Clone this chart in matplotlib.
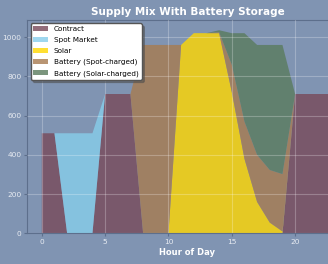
import matplotlib
matplotlib.use("Agg")
import matplotlib.pyplot as plt

# hourly supply (MW) by source
hours = list(range(24))
contract = [510, 510, 0, 0, 0, 710, 710, 710, 0, 0, 0, 0, 0, 0, 0, 0, 0, 0, 0, 0, 710, 710, 710, 710]
spot = [0, 0, 510, 510, 510, 0, 0, 0, 0, 0, 0, 0, 0, 0, 0, 0, 0, 0, 0, 0, 0, 0, 0, 0]
solar = [0, 0, 0, 0, 0, 0, 0, 0, 0, 0, 0, 960, 1020, 1020, 1020, 720, 380, 160, 55, 10, 0, 0, 0, 0]
batt_spot = [0, 0, 0, 0, 0, 0, 0, 0, 960, 960, 960, 0, 0, 0, 5, 140, 190, 240, 268, 292, 0, 0, 0, 0]
batt_solar = [0, 0, 0, 0, 0, 0, 0, 0, 0, 0, 0, 0, 0, 0, 10, 160, 450, 560, 637, 658, 0, 0, 0, 0]

labels = ["Contract", "Spot Market", "Solar", "Battery (Spot-charged)", "Battery (Solar-charged)"]
colors = ["#784959", "skyblue", "gold", "#a87b50", "#5a7b5d"]

bg = "#8094b2"
fig = plt.figure(figsize=(3.28, 2.64), dpi=100, facecolor=bg)
ax = fig.add_axes([0.083, 0.116, 0.977, 0.808])
ax.set_facecolor(bg)

ax.stackplot(hours, contract, spot, solar, batt_spot, batt_solar,
             labels=labels, colors=colors, alpha=0.8)

# grid drawn over the areas, as in the original
ax.set_axisbelow(False)
ax.grid(True, color="white", alpha=0.25, linewidth=0.8)
for s in ax.spines.values():
    s.set_color("#5d6f8c")
ax.tick_params(colors="#5d6f8c", labelcolor="#e8ecf2", labelsize=5.3, length=2.5, pad=1.5)
ax.set_xticks([0, 5, 10, 15, 20])
ax.set_yticks([0, 200, 400, 600, 800, 1000])

ax.set_xlabel("Hour of Day", color="white", fontsize=6, fontweight="bold", labelpad=2)
ax.set_title("Supply Mix With Battery Storage", color="white", fontsize=7.5,
             fontweight="bold", pad=4)

leg = ax.legend(loc="upper left", fontsize=5.25, shadow=True, framealpha=1,
                borderpad=0.4, labelspacing=0.65, handlelength=2.0,
                handletextpad=0.8, borderaxespad=0.45)
leg.get_frame().set_edgecolor("#555555")

fig.savefig("out.png", dpi=100, facecolor=bg)
